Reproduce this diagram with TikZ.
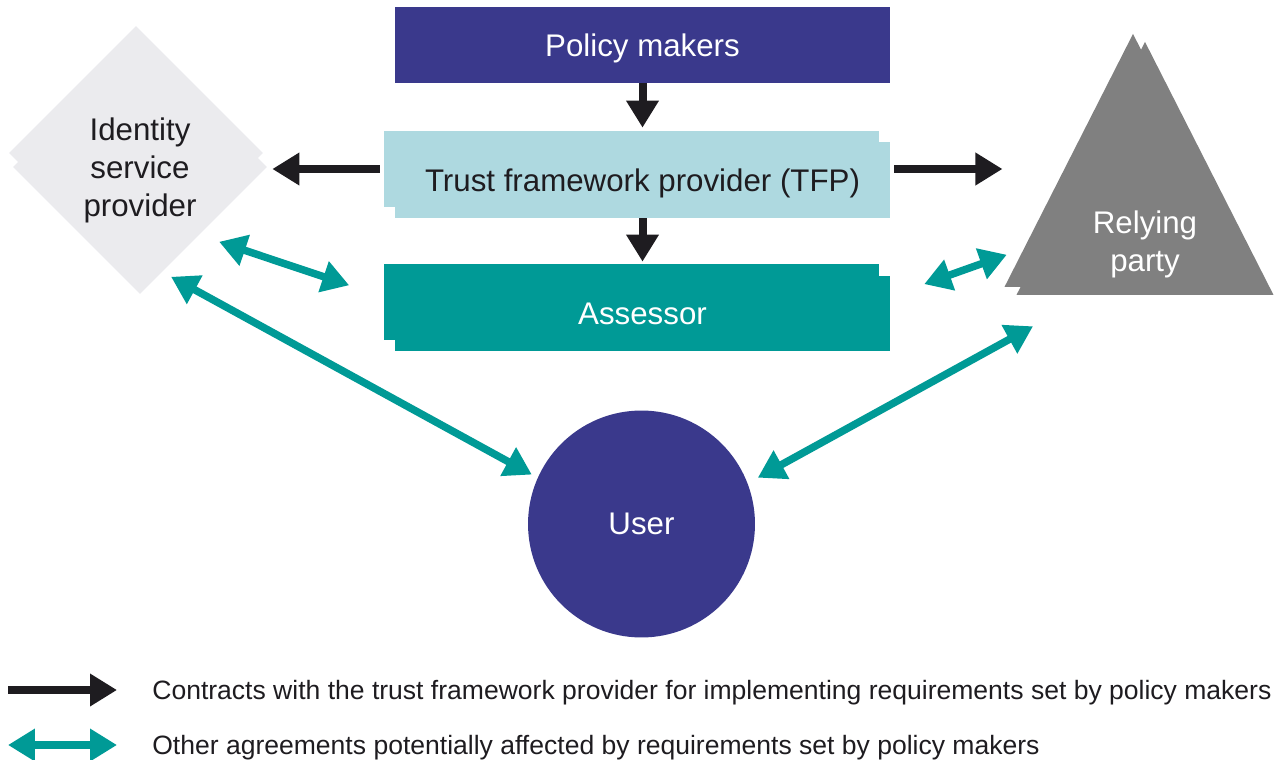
\documentclass[tikz,border=0pt]{standalone}
\usepackage{fontspec}
\setmainfont{Liberation Sans}
\usetikzlibrary{positioning}
\usetikzlibrary{calc}
\usetikzlibrary{shapes.geometric}
\usetikzlibrary{arrows.meta}
\definecolor{mnavy}{RGB}{58,57,140}
\definecolor{mpale}{RGB}{174,217,224}
\definecolor{mteal}{RGB}{0,154,150}
\definecolor{mgrey}{RGB}{128,128,128}
\definecolor{mlight}{RGB}{235,235,238}
\definecolor{mink}{RGB}{30,28,32}

\begin{document}
\begin{tikzpicture}[x=0.02cm, y=-0.02cm,
    every node/.style={font=\fontsize{17.8}{21.6}\selectfont},
    bar/.style={rectangle, inner sep=0pt, minimum width=9.9cm, minimum height=1.52cm, text depth=0pt},
    policybar/.style={bar, fill=mnavy, text=white},
    tfpbar/.style={bar, fill=mpale, text=mink},
    assessorbar/.style={bar, fill=mteal, text=white},
    ispshape/.style={diamond, aspect=1, inner sep=0pt, minimum width=5.08cm, minimum height=5.08cm, fill=mlight, text=mink, align=center, text depth=0pt},
    rpshape/.style={isosceles triangle, isosceles triangle stretches, shape border rotate=90, inner sep=0pt, minimum width=5.14cm, minimum height=5.06cm, fill=mgrey, anchor=apex},
    usershape/.style={circle, inner sep=0pt, minimum size=4.54cm, fill=mnavy, text=white},
    contract/.style={-{Triangle[length=0.54cm, width=0.62cm]}, line width=0.16cm, draw=mink},
    agree/.style={{Triangle[length=0.54cm, width=0.62cm]}-{Triangle[length=0.54cm, width=0.62cm]}, line width=0.15cm, draw=mteal},
    legendtext/.style={anchor=west, inner sep=0pt, text=mink, text depth=0pt, font=\fontsize{15.1}{18}\selectfont},
]
\useasboundingbox (0,0) rectangle (1284,760);

\node[policybar] (policy) at (642.5,45) {Policy makers};
\node[tfpbar] (tfpback) at (631.5,169) {};
\node[tfpbar] (tfp) at (642.5,180) {Trust framework provider (TFP)};
\node[assessorbar] (assessorback) at (631.5,302) {};
\node[assessorbar] (assessor) at (642.5,313.5) {Assessor};
\node[ispshape] (ispback) at (136,153) {};
\node[ispshape] (isp) at (140,167) {Identity\\service\\provider};
\node[rpshape] (rpback) at (1133,33) {};
\node[rpshape] (rp) at (1145,41) {};
\node[align=center, text=white, inner sep=0pt] (rptext) at (1145,244) {Relying\\party};
\node[usershape] (user) at (641.5,524) {User};

\draw[contract, shorten >=0.06cm] (policy.south) -- (policy.south |- tfpback.north);
\draw[contract, shorten >=0.04cm] (tfp.south) -- (tfp.south |- assessorback.north);
\draw[contract, shorten <=0.08cm, shorten >=0.1cm] (tfpback.west) -- (tfpback.west -| isp.east);
\draw[contract, shorten <=0.08cm, shorten >=0.27cm] (tfp.east |- tfpback.east) -- (tfpback.east -| rp.left corner);

\draw[agree, shorten <=0.42cm, shorten >=0.96cm] (isp.-49) -- (assessor.177.9);
\draw[agree, shorten <=0.2cm, shorten >=0.13cm] (isp.-78) -- (user.156);
\draw[agree, shorten <=0.72cm, shorten >=0.77cm] (assessor.4.2) -- ($(rp.left corner)!0.21!(rp.apex)$);
\draw[agree, shorten <=0.23cm, shorten >=1.29cm] (user.21.7) -- ($(rp.left corner)!0.285!(rp.right corner)$);

\node[legendtext] (contractkey) at (152,690) {Contracts with the trust framework provider for implementing requirements set by policy makers};
\node[legendtext] (agreekey) at (152,745) {Other agreements potentially affected by requirements set by policy makers};
\coordinate (contractstart) at (8,690);
\coordinate (agreestart) at (8,745);
\draw[contract, shorten >=0.7cm] (contractstart) -- (contractkey.west);
\draw[agree, shorten >=0.7cm] (agreestart) -- (agreekey.west);
\end{tikzpicture}
\end{document}
